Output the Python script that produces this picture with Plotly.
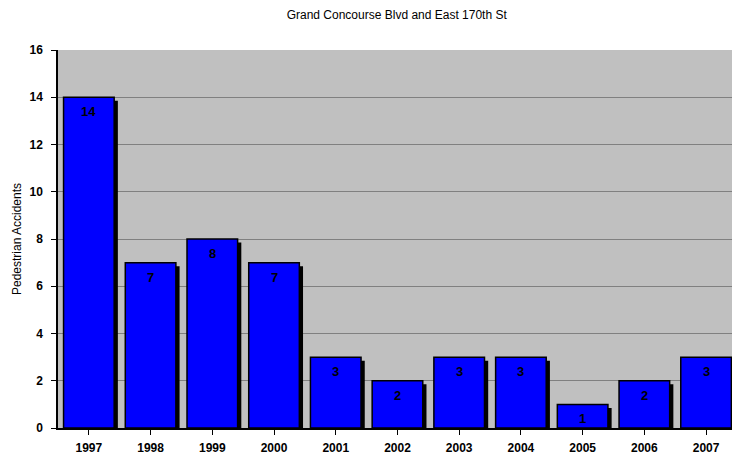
import plotly.graph_objects as go

years = ["1997", "1998", "1999", "2000", "2001", "2002", "2003", "2004", "2005", "2006", "2007"]
accidents = [14, 7, 8, 7, 3, 2, 3, 3, 1, 2, 3]
title_text = "Grand Concourse Blvd and East 170th St"
y_title = "Pedestrian Accidents"
y_ticks = [0, 2, 4, 6, 8, 10, 12, 14, 16]

x_idx = list(range(len(years)))
bar_w = 0.82
shadow_dx = 0.06
shadow_dy = 0.15

fig = go.Figure()
# shadow
fig.add_trace(go.Bar(
    x=x_idx, y=[v - shadow_dy for v in accidents],
    width=bar_w, offset=-bar_w / 2 + shadow_dx,
    marker=dict(color="black", line=dict(width=0)),
    hoverinfo="skip", showlegend=False,
))
# main bars
fig.add_trace(go.Bar(
    x=x_idx, y=accidents,
    width=bar_w, offset=-bar_w / 2,
    marker=dict(color="#0000FF", line=dict(color="black", width=1.5)),
    showlegend=False,
))

for i, v in zip(x_idx, accidents):
    fig.add_annotation(
        x=i, y=v, text=f"<b>{v}</b>", showarrow=False,
        yanchor="top", yshift=-5, xshift=0,
        font=dict(family="Arial, Liberation Sans", size=13, color="black"),
    )

fig.update_layout(
    width=732, height=454,
    margin=dict(l=58, r=0, t=50, b=26, pad=0, autoexpand=False),
    paper_bgcolor="white",
    plot_bgcolor="#C0C0C0",
    barmode="overlay",
    font=dict(family="Arial, Liberation Sans", color="black"),
    title=dict(text=title_text, x=0.542, xanchor="center", y=0.967, yanchor="middle",
               font=dict(size=12, family="Arial, Liberation Sans", color="black")),
)

fig.update_xaxes(
    range=[-0.5, 10.42],
    tickvals=x_idx, ticktext=[f"<b>{y}</b>" for y in years],
    tickfont=dict(size=12),
    ticks="outside", ticklen=5, tickcolor="black", tickson="boundaries",
    ticklabelstandoff=3, automargin=False,
    showline=True, linecolor="black", linewidth=1.5,
    showgrid=False, zeroline=False,
)
fig.update_yaxes(
    range=[0, 16],
    tickvals=y_ticks, ticktext=[f"<b>{t}</b>" for t in y_ticks],
    tickfont=dict(size=12),
    ticks="outside", ticklen=5, tickcolor="black",
    ticklabelstandoff=6, automargin=False,
    showline=True, linecolor="black", linewidth=1.5,
    showgrid=True, gridcolor="#808080", gridwidth=1,
    zeroline=False,
    title=dict(text=y_title, font=dict(size=12), standoff=5),
)

fig.write_html(
    "out.html",
    config={"displayModeBar": False},
    post_script="document.body.style.margin='0px';document.documentElement.style.overflow='hidden';document.body.style.overflow='hidden';",
)
